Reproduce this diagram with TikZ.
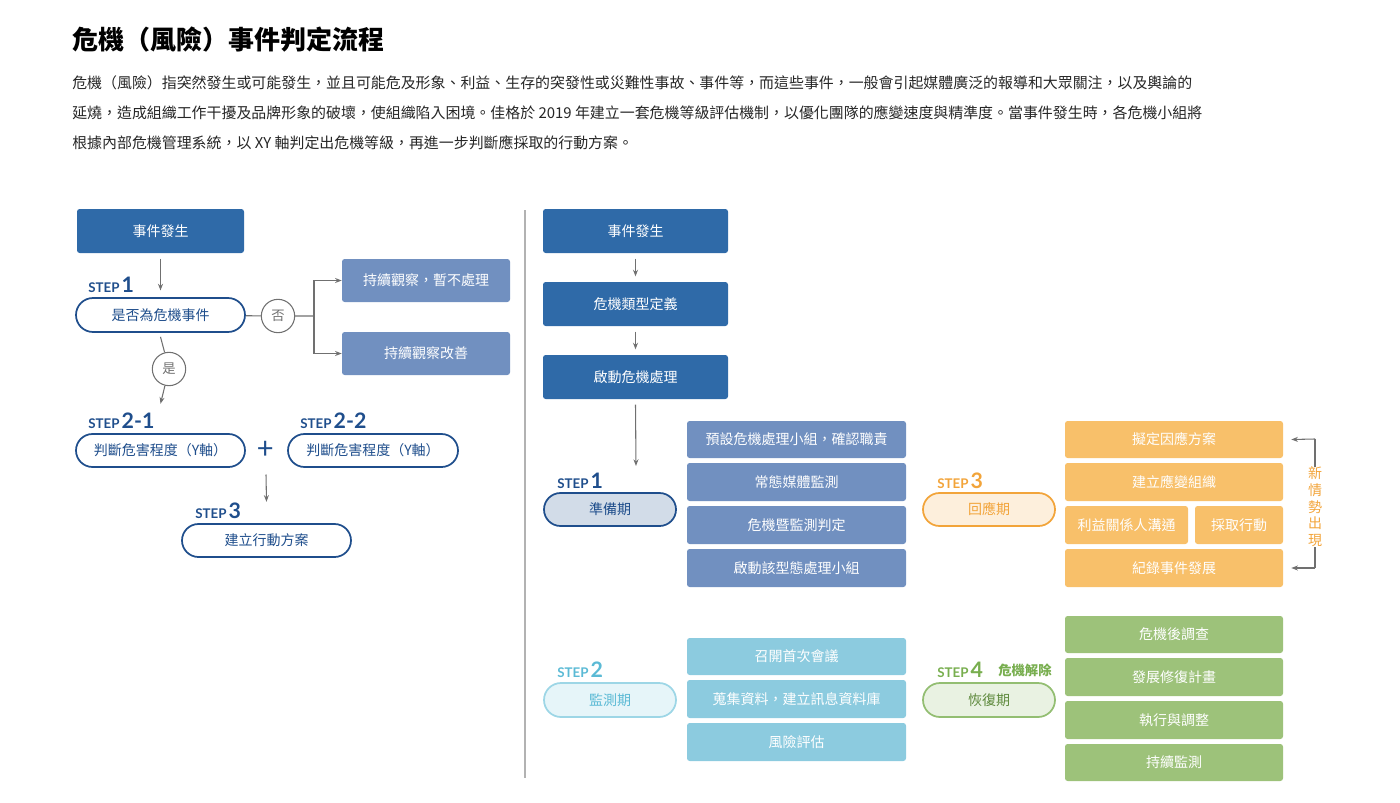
\documentclass[tikz,border=0pt]{standalone}
\usepackage{fontspec}
\setmainfont{Noto Sans CJK TC}
\newfontfamily\stepfont{Lato}
\usetikzlibrary{shapes.misc,arrows.meta,positioning}
\definecolor{navy}{HTML}{2F6AA8}
\definecolor{steel}{HTML}{7190C0}
\definecolor{ink}{HTML}{1F4E8C}
\definecolor{sky}{HTML}{8CCBDF}
\definecolor{skyline}{HTML}{5BBAD5}
\definecolor{amber}{HTML}{F8C06A}
\definecolor{amberline}{HTML}{F2A43A}
\definecolor{leaf}{HTML}{9DC27A}
\definecolor{leafline}{HTML}{78AE4F}
\definecolor{greyline}{HTML}{707070}
\newcommand\bx[7]{\node[#1, minimum width={(#4-#2)*0.75pt}, minimum height={(#5-#3)*0.75pt}] (#6) at ({(#2+#4)/2},{(#3+#5)/2}) {#7};}
\newcommand\steplab[5]{\node[anchor=base west, inner sep=0, text=#4, font=\stepfont\bfseries] (#1) at (#2,#3) {{\fontsize{10}{10}\selectfont STEP}\,{\fontsize{16}{16}\selectfont #5}};}

\begin{document}
\begin{tikzpicture}[
    x=0.75pt, y=-0.75pt,
    box/.style={rectangle, rounded corners=2pt, inner sep=0, text=white, font=\fontsize{10.5}{12}\selectfont},
    dark/.style={box, fill=navy},
    mid/.style={box, fill=steel},
    light/.style={box, fill=sky},
    warm/.style={box, fill=amber},
    green/.style={box, fill=leaf},
    pill/.style={rounded rectangle, draw=ink, line width=1.3pt, fill=white, inner sep=0, text=ink, font=\fontsize{10.5}{12}\selectfont},
    yn/.style={circle, draw=greyline, line width=0.8pt, minimum size=25pt, inner sep=0, text=greyline, font=\fontsize{10}{12}\selectfont},
    arrow/.style={-{Stealth[length=5pt]}, greyline, line width=0.8pt},
    link/.style={greyline, line width=0.8pt}
]
\useasboundingbox (0,0) rectangle (1400,803);

% Heading and intro text
\node[anchor=west, inner sep=0, font=\fontsize{19.5}{22}\selectfont\bfseries] (title) at (72,40) {危機（風險）事件判定流程};
\node[anchor=north west, inner sep=0, text=black!85, align=left, font=\fontsize{11.2}{22.5}\selectfont] (intro) at (72,75) {危機（風險）指突然發生或可能發生，並且可能危及形象、利益、生存的突發性或災難性事故、事件等，而這些事件，一般會引起媒體廣泛的報導和大眾關注，以及輿論的\\延燒，造成組織工作干擾及品牌形象的破壞，使組織陷入困境。佳格於 2019 年建立一套危機等級評估機制，以優化團隊的應變速度與精準度。當事件發生時，各危機小組將\\根據內部危機管理系統，以 XY 軸判定出危機等級，再進一步判斷應採取的行動方案。};

% Left flow
\bx{dark}{77}{209}{244}{253}{start}{事件發生}
\bx{pill}{76}{298}{245}{332}{check}{是否為危機事件}
\steplab{s1}{88}{292}{ink}{1}
\node[yn] (no) at (278,316) {否};
\bx{mid}{342}{259}{510}{302}{watch}{持續觀察，暫不處理}
\bx{mid}{342}{332}{510}{375}{improve}{持續觀察改善}
\node[yn] (yes) at (169,369) {是};
\bx{pill}{76}{434}{245}{467}{harmA}{判斷危害程度（Y軸）}
\bx{pill}{288}{434}{458}{467}{harmB}{判斷危害程度（Y軸）}
\steplab{s21}{88}{428}{ink}{2-1}
\steplab{s22}{300}{428}{ink}{2-2}
\node[text=ink, font=\fontsize{22}{22}\selectfont] (plus) at (266,450) {+};
\bx{pill}{182}{524}{351}{557}{plan}{建立行動方案}
\steplab{s3}{195}{518}{ink}{3}
\coordinate (fork) at (314,316);

\draw[arrow] ([yshift=-4pt]start.south) -- ([yshift=5pt]check.north);
\draw[link] (check) -- (no) -- (fork);
\draw[arrow] (fork) |- (watch.west);
\draw[arrow] (fork) |- (improve.west);
\draw[link] ([yshift=-3pt]check.south) -- (yes);
\draw[arrow] (yes) -- ([yshift=22pt]harmA.north);
\draw[arrow] ([yshift=-8pt]plus.south) -- ([yshift=16pt]plan.north);

% Divider
\draw[black!30, line width=0.8pt] (525,210) -- (525,778);

% Right flow
\bx{dark}{543}{209}{728}{253}{event}{事件發生}
\bx{dark}{543}{282}{728}{326}{define}{危機類型定義}
\bx{dark}{543}{355}{728}{399}{launch}{啟動危機處理}
\draw[arrow] ([yshift=-4pt]event.south) -- ([yshift=4pt]define.north);
\draw[arrow] ([yshift=-4pt]define.south) -- ([yshift=4pt]launch.north);
\coordinate (ready) at (636,466);
\draw[arrow] ([yshift=-4pt]launch.south) -- (ready);

\bx{pill, fill=ink!20, draw=ink}{544}{493}{676}{526}{prep}{準備期}
\steplab{r1}{557}{488}{ink}{1}
\bx{mid}{687}{421}{906}{458}{p1}{預設危機處理小組，確認職責}
\bx{mid}{687}{463}{906}{501}{p2}{常態媒體監測}
\bx{mid}{687}{506}{906}{544}{p3}{危機暨監測判定}
\bx{mid}{687}{549}{906}{587}{p4}{啟動該型態處理小組}

\bx{pill, fill=skyline!15, draw=skyline!60, text=skyline}{544}{683}{676}{717}{monitor}{監測期}
\steplab{r2}{557}{677}{skyline}{2}
\bx{light}{687}{638}{906}{675}{m1}{召開首次會議}
\bx{light}{687}{680}{906}{718}{m2}{蒐集資料，建立訊息資料庫}
\bx{light}{687}{723}{906}{761}{m3}{風險評估}

\bx{pill, fill=amberline!18, draw=amberline, text=amberline}{923}{493}{1055}{526}{respond}{回應期}
\steplab{r3}{937}{488}{amberline}{3}
\bx{warm}{1065}{421}{1283}{458}{o1}{擬定因應方案}
\bx{warm}{1065}{463}{1283}{501}{o2}{建立應變組織}
\bx{warm}{1065}{506}{1188}{544}{o3}{利益關係人溝通}
\bx{warm}{1195}{506}{1283}{544}{o4}{採取行動}
\bx{warm}{1065}{549}{1283}{587}{o5}{紀錄事件發展}
\node[inner sep=0, text=amberline, align=center, font=\fontsize{10.5}{12.5}\selectfont] (news) at (1315,507) {新\\情\\勢\\出\\現};
\coordinate (top) at (1315,439);
\coordinate (bot) at (1315,568);
\draw[link] (news.north) -- (top);
\draw[arrow] (top) -- ([xshift=6pt]o1.east);
\draw[link] (news.south) -- (bot);
\draw[arrow] (bot) -- ([xshift=6pt]o5.east);

\bx{pill, fill=leaf!22, draw=leafline!80, text=leafline!80!black}{923}{683}{1055}{717}{recover}{恢復期}
\steplab{r4}{937}{677}{leafline}{4}
\node[anchor=base west, inner sep=0, text=leafline, font=\fontsize{10}{10}\selectfont\bfseries] (clear) at (998,675) {危機解除};
\bx{green}{1065}{616}{1283}{653}{g1}{危機後調查}
\bx{green}{1065}{658}{1283}{696}{g2}{發展修復計畫}
\bx{green}{1065}{701}{1283}{739}{g3}{執行與調整}
\bx{green}{1065}{744}{1283}{781}{g4}{持續監測}

\end{tikzpicture}
\end{document}
